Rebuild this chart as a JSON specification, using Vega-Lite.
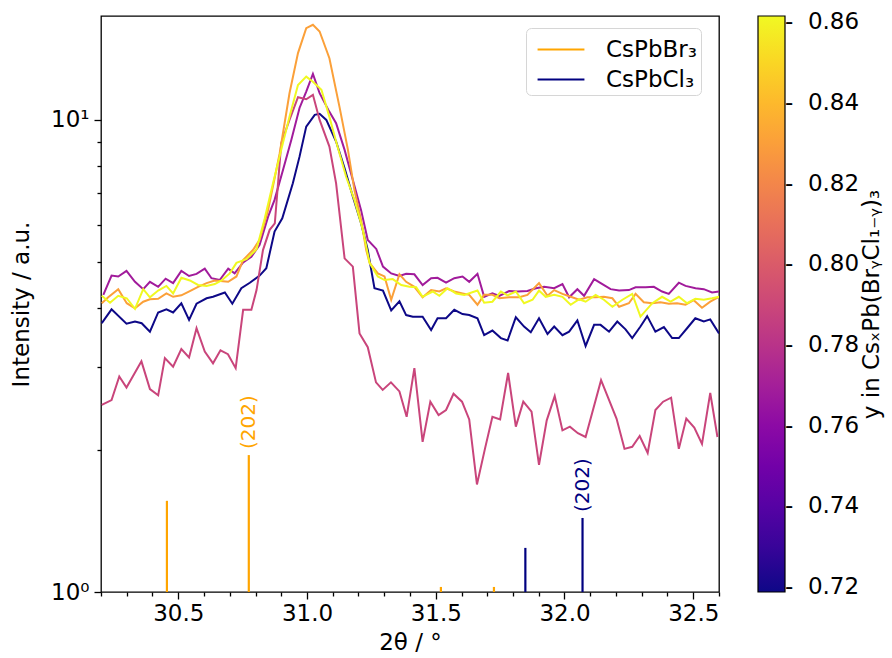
{
  "$schema": "https://vega.github.io/schema/vega-lite/v6.json",
  "width": 618,
  "height": 576,
  "autosize": {"type": "none"},
  "padding": {"left": 101, "top": 16, "right": 173, "bottom": 66},
  "config": {
    "font": "DejaVu Sans",
    "view": {"stroke": "black", "strokeWidth": 1.3},
    "axis": {"domain": false, "grid": false, "labelFont": "DejaVu Sans", "labelFontSize": 23, "titleFont": "DejaVu Sans", "titleFontSize": 23, "titleFontWeight": "normal", "labelColor": "black", "titleColor": "black", "tickColor": "black", "tickWidth": 1.3, "labelOverlap": false, "labelFlush": false},
    "legend": {"labelFont": "DejaVu Sans", "titleFont": "DejaVu Sans", "labelColor": "black", "titleColor": "black", "titleFontWeight": "normal"}
  },
  "resolve": {"axis": {"x": "independent", "y": "independent"}},
  "datasets": {
    "scans": [
      {"y":0.7188,"t":30.203,"I":3.71},{"y":0.7188,"t":30.241,"I":3.97},{"y":0.7188,"t":30.299,"I":3.70},{"y":0.7188,"t":30.332,"I":3.74},{"y":0.7188,"t":30.358,"I":3.71},{"y":0.7188,"t":30.39,"I":3.56},{"y":0.7188,"t":30.422,"I":3.91},{"y":0.7188,"t":30.454,"I":3.97},{"y":0.7188,"t":30.48,"I":3.91},{"y":0.7188,"t":30.512,"I":4.09},{"y":0.7188,"t":30.542,"I":3.77},{"y":0.7188,"t":30.571,"I":4.08},{"y":0.7188,"t":30.61,"I":4.19},{"y":0.7188,"t":30.635,"I":4.22},{"y":0.7188,"t":30.681,"I":4.31},{"y":0.7188,"t":30.71,"I":4.08},{"y":0.7188,"t":30.745,"I":4.40},{"y":0.7188,"t":30.778,"I":4.52},{"y":0.7188,"t":30.816,"I":4.68},{"y":0.7188,"t":30.842,"I":4.85},{"y":0.7188,"t":30.874,"I":5.80},{"y":0.7188,"t":30.904,"I":6.19},{"y":0.7188,"t":30.945,"I":7.34},{"y":0.7188,"t":30.971,"I":8.36},{"y":0.7188,"t":30.997,"I":9.68},{"y":0.7188,"t":31.03,"I":10.25},{"y":0.7188,"t":31.049,"I":10.3},{"y":0.7188,"t":31.075,"I":10.0},{"y":0.7188,"t":31.113,"I":9.0},{"y":0.7188,"t":31.146,"I":7.90},{"y":0.7188,"t":31.178,"I":6.88},{"y":0.7188,"t":31.21,"I":6.04},{"y":0.7188,"t":31.236,"I":5.30},{"y":0.7188,"t":31.262,"I":4.40},{"y":0.7188,"t":31.295,"I":4.35},{"y":0.7188,"t":31.327,"I":3.95},{"y":0.7188,"t":31.359,"I":4.13},{"y":0.7188,"t":31.385,"I":3.86},{"y":0.7188,"t":31.411,"I":3.83},{"y":0.7188,"t":31.449,"I":3.83},{"y":0.7188,"t":31.482,"I":3.59},{"y":0.7188,"t":31.507,"I":3.80},{"y":0.7188,"t":31.54,"I":3.80},{"y":0.7188,"t":31.572,"I":3.96},{"y":0.7188,"t":31.604,"I":3.88},{"y":0.7188,"t":31.63,"I":3.86},{"y":0.7188,"t":31.662,"I":3.80},{"y":0.7188,"t":31.688,"I":3.50},{"y":0.7188,"t":31.72,"I":3.58},{"y":0.7188,"t":31.753,"I":3.45},{"y":0.7188,"t":31.779,"I":3.41},{"y":0.7188,"t":31.811,"I":3.82},{"y":0.7188,"t":31.843,"I":3.65},{"y":0.7188,"t":31.869,"I":3.55},{"y":0.7188,"t":31.901,"I":3.80},{"y":0.7188,"t":31.934,"I":3.52},{"y":0.7188,"t":31.96,"I":3.65},{"y":0.7188,"t":31.992,"I":3.50},{"y":0.7188,"t":32.018,"I":3.56},{"y":0.7188,"t":32.05,"I":3.76},{"y":0.7188,"t":32.082,"I":3.32},{"y":0.7188,"t":32.115,"I":3.68},{"y":0.7188,"t":32.14,"I":3.68},{"y":0.7188,"t":32.173,"I":3.56},{"y":0.7188,"t":32.205,"I":3.74},{"y":0.7188,"t":32.237,"I":3.60},{"y":0.7188,"t":32.263,"I":3.45},{"y":0.7188,"t":32.295,"I":3.65},{"y":0.7188,"t":32.321,"I":3.84},{"y":0.7188,"t":32.353,"I":3.56},{"y":0.7188,"t":32.386,"I":3.64},{"y":0.7188,"t":32.418,"I":3.45},{"y":0.7188,"t":32.444,"I":3.45},{"y":0.7188,"t":32.476,"I":3.62},{"y":0.7188,"t":32.508,"I":3.80},{"y":0.7188,"t":32.541,"I":3.74},{"y":0.7188,"t":32.566,"I":3.78},{"y":0.7188,"t":32.6,"I":3.53},

      {"y":0.7684,"t":30.209,"I":4.26},{"y":0.7684,"t":30.241,"I":4.68},{"y":0.7684,"t":30.267,"I":4.66},{"y":0.7684,"t":30.299,"I":4.79},{"y":0.7684,"t":30.332,"I":4.54},{"y":0.7684,"t":30.364,"I":4.38},{"y":0.7684,"t":30.39,"I":4.54},{"y":0.7684,"t":30.422,"I":4.43},{"y":0.7684,"t":30.451,"I":4.61},{"y":0.7684,"t":30.48,"I":4.51},{"y":0.7684,"t":30.512,"I":4.79},{"y":0.7684,"t":30.542,"I":4.67},{"y":0.7684,"t":30.571,"I":4.72},{"y":0.7684,"t":30.603,"I":4.84},{"y":0.7684,"t":30.629,"I":4.62},{"y":0.7684,"t":30.661,"I":4.58},{"y":0.7684,"t":30.694,"I":4.84},{"y":0.7684,"t":30.719,"I":4.73},{"y":0.7684,"t":30.752,"I":4.99},{"y":0.7684,"t":30.784,"I":5.13},{"y":0.7684,"t":30.816,"I":5.44},{"y":0.7684,"t":30.849,"I":6.24},{"y":0.7684,"t":30.874,"I":6.77},{"y":0.7684,"t":30.907,"I":7.84},{"y":0.7684,"t":30.939,"I":9.07},{"y":0.7684,"t":30.971,"I":10.6},{"y":0.7684,"t":30.997,"I":11.48},{"y":0.7684,"t":31.023,"I":12.52},{"y":0.7684,"t":31.049,"I":11.39},{"y":0.7684,"t":31.087,"I":10.4},{"y":0.7684,"t":31.113,"I":9.84},{"y":0.7684,"t":31.146,"I":8.64},{"y":0.7684,"t":31.178,"I":7.46},{"y":0.7684,"t":31.21,"I":6.44},{"y":0.7684,"t":31.236,"I":5.57},{"y":0.7684,"t":31.269,"I":5.33},{"y":0.7684,"t":31.295,"I":4.89},{"y":0.7684,"t":31.327,"I":4.73},{"y":0.7684,"t":31.359,"I":4.67},{"y":0.7684,"t":31.385,"I":4.72},{"y":0.7684,"t":31.417,"I":4.71},{"y":0.7684,"t":31.449,"I":4.47},{"y":0.7684,"t":31.482,"I":4.62},{"y":0.7684,"t":31.507,"I":4.63},{"y":0.7684,"t":31.54,"I":4.52},{"y":0.7684,"t":31.572,"I":4.62},{"y":0.7684,"t":31.604,"I":4.66},{"y":0.7684,"t":31.63,"I":4.54},{"y":0.7684,"t":31.662,"I":4.72},{"y":0.7684,"t":31.688,"I":4.22},{"y":0.7684,"t":31.72,"I":4.29},{"y":0.7684,"t":31.747,"I":4.24},{"y":0.7684,"t":31.785,"I":4.34},{"y":0.7684,"t":31.817,"I":4.33},{"y":0.7684,"t":31.856,"I":4.34},{"y":0.7684,"t":31.889,"I":4.40},{"y":0.7684,"t":31.921,"I":4.43},{"y":0.7684,"t":31.96,"I":4.40},{"y":0.7684,"t":31.992,"I":4.49},{"y":0.7684,"t":32.018,"I":4.21},{"y":0.7684,"t":32.05,"I":4.38},{"y":0.7684,"t":32.076,"I":4.24},{"y":0.7684,"t":32.115,"I":4.60},{"y":0.7684,"t":32.147,"I":4.49},{"y":0.7684,"t":32.179,"I":4.38},{"y":0.7684,"t":32.212,"I":4.35},{"y":0.7684,"t":32.25,"I":4.36},{"y":0.7684,"t":32.276,"I":4.42},{"y":0.7684,"t":32.315,"I":4.42},{"y":0.7684,"t":32.347,"I":4.43},{"y":0.7684,"t":32.379,"I":4.33},{"y":0.7684,"t":32.405,"I":4.28},{"y":0.7684,"t":32.444,"I":4.52},{"y":0.7684,"t":32.47,"I":4.45},{"y":0.7684,"t":32.509,"I":4.40},{"y":0.7684,"t":32.541,"I":4.38},{"y":0.7684,"t":32.573,"I":4.31},{"y":0.7684,"t":32.6,"I":4.33},

      {"y":0.789,"t":30.203,"I":2.49},{"y":0.789,"t":30.241,"I":2.55},{"y":0.789,"t":30.271,"I":2.86},{"y":0.789,"t":30.299,"I":2.71},{"y":0.789,"t":30.357,"I":3.08},{"y":0.789,"t":30.39,"I":2.69},{"y":0.789,"t":30.422,"I":2.61},{"y":0.789,"t":30.448,"I":3.13},{"y":0.789,"t":30.48,"I":3.0},{"y":0.789,"t":30.512,"I":3.27},{"y":0.789,"t":30.542,"I":3.14},{"y":0.789,"t":30.571,"I":3.62},{"y":0.789,"t":30.603,"I":3.23},{"y":0.789,"t":30.635,"I":3.05},{"y":0.789,"t":30.664,"I":3.25},{"y":0.789,"t":30.693,"I":3.19},{"y":0.789,"t":30.723,"I":2.98},{"y":0.789,"t":30.752,"I":3.96},{"y":0.789,"t":30.784,"I":3.96},{"y":0.789,"t":30.804,"I":4.36},{"y":0.789,"t":30.829,"I":5.30},{"y":0.789,"t":30.855,"I":5.85},{"y":0.789,"t":30.875,"I":6.04},{"y":0.789,"t":30.9,"I":8.93},{"y":0.789,"t":30.932,"I":10.0},{"y":0.789,"t":30.965,"I":11.17},{"y":0.789,"t":30.997,"I":11.06},{"y":0.789,"t":31.023,"I":11.3},{"y":0.789,"t":31.049,"I":10.0},{"y":0.789,"t":31.087,"I":8.78},{"y":0.789,"t":31.113,"I":7.34},{"y":0.789,"t":31.146,"I":5.09},{"y":0.789,"t":31.178,"I":4.89},{"y":0.789,"t":31.204,"I":3.53},{"y":0.789,"t":31.236,"I":3.30},{"y":0.789,"t":31.268,"I":2.78},{"y":0.789,"t":31.294,"I":2.68},{"y":0.789,"t":31.326,"I":2.78},{"y":0.789,"t":31.359,"I":2.66},{"y":0.789,"t":31.387,"I":2.35},{"y":0.789,"t":31.417,"I":2.98},{"y":0.789,"t":31.449,"I":2.08},{"y":0.789,"t":31.479,"I":2.53},{"y":0.789,"t":31.511,"I":2.37},{"y":0.789,"t":31.54,"I":2.43},{"y":0.789,"t":31.569,"I":2.63},{"y":0.789,"t":31.602,"I":2.53},{"y":0.789,"t":31.63,"I":2.32},{"y":0.789,"t":31.66,"I":1.69},{"y":0.789,"t":31.691,"I":2.01},{"y":0.789,"t":31.72,"I":2.35},{"y":0.789,"t":31.75,"I":2.32},{"y":0.789,"t":31.781,"I":2.91},{"y":0.789,"t":31.811,"I":2.24},{"y":0.789,"t":31.84,"I":2.53},{"y":0.789,"t":31.872,"I":2.41},{"y":0.789,"t":31.901,"I":1.86},{"y":0.789,"t":31.931,"I":2.31},{"y":0.789,"t":31.962,"I":2.60},{"y":0.789,"t":31.992,"I":2.20},{"y":0.789,"t":32.021,"I":2.24},{"y":0.789,"t":32.052,"I":2.17},{"y":0.789,"t":32.082,"I":2.13},{"y":0.789,"t":32.142,"I":2.81},{"y":0.789,"t":32.202,"I":2.33},{"y":0.789,"t":32.233,"I":2.01},{"y":0.789,"t":32.263,"I":2.03},{"y":0.789,"t":32.292,"I":2.14},{"y":0.789,"t":32.323,"I":1.97},{"y":0.789,"t":32.353,"I":2.43},{"y":0.789,"t":32.383,"I":2.53},{"y":0.789,"t":32.414,"I":2.58},{"y":0.789,"t":32.444,"I":2.01},{"y":0.789,"t":32.473,"I":2.33},{"y":0.789,"t":32.504,"I":2.23},{"y":0.789,"t":32.534,"I":2.06},{"y":0.789,"t":32.566,"I":2.64},{"y":0.789,"t":32.594,"I":2.13},

      {"y":0.8307,"t":30.203,"I":4.09},{"y":0.8307,"t":30.228,"I":4.21},{"y":0.8307,"t":30.267,"I":4.38},{"y":0.8307,"t":30.3,"I":4.09},{"y":0.8307,"t":30.332,"I":3.99},{"y":0.8307,"t":30.364,"I":4.12},{"y":0.8307,"t":30.39,"I":4.17},{"y":0.8307,"t":30.422,"I":4.18},{"y":0.8307,"t":30.454,"I":4.29},{"y":0.8307,"t":30.48,"I":4.22},{"y":0.8307,"t":30.512,"I":4.25},{"y":0.8307,"t":30.545,"I":4.34},{"y":0.8307,"t":30.577,"I":4.43},{"y":0.8307,"t":30.61,"I":4.51},{"y":0.8307,"t":30.642,"I":4.57},{"y":0.8307,"t":30.694,"I":4.54},{"y":0.8307,"t":30.726,"I":4.66},{"y":0.8307,"t":30.752,"I":5.05},{"y":0.8307,"t":30.79,"I":5.30},{"y":0.8307,"t":30.816,"I":5.57},{"y":0.8307,"t":30.849,"I":6.44},{"y":0.8307,"t":30.894,"I":8.50},{"y":0.8307,"t":30.932,"I":11.39},{"y":0.8307,"t":30.965,"I":13.85},{"y":0.8307,"t":30.997,"I":15.64},{"y":0.8307,"t":31.023,"I":15.9},{"y":0.8307,"t":31.049,"I":15.39},{"y":0.8307,"t":31.087,"I":13.51},{"y":0.8307,"t":31.126,"I":10.67},{"y":0.8307,"t":31.159,"I":8.64},{"y":0.8307,"t":31.184,"I":7.11},{"y":0.8307,"t":31.21,"I":6.14},{"y":0.8307,"t":31.23,"I":5.30},{"y":0.8307,"t":31.243,"I":4.98},{"y":0.8307,"t":31.275,"I":4.73},{"y":0.8307,"t":31.301,"I":4.66},{"y":0.8307,"t":31.327,"I":4.16},{"y":0.8307,"t":31.359,"I":4.71},{"y":0.8307,"t":31.385,"I":4.54},{"y":0.8307,"t":31.417,"I":4.43},{"y":0.8307,"t":31.449,"I":4.21},{"y":0.8307,"t":31.482,"I":4.36},{"y":0.8307,"t":31.514,"I":4.33},{"y":0.8307,"t":31.54,"I":4.40},{"y":0.8307,"t":31.572,"I":4.33},{"y":0.8307,"t":31.604,"I":4.29},{"y":0.8307,"t":31.63,"I":4.26},{"y":0.8307,"t":31.662,"I":4.06},{"y":0.8307,"t":31.688,"I":4.26},{"y":0.8307,"t":31.72,"I":4.26},{"y":0.8307,"t":31.747,"I":4.19},{"y":0.8307,"t":31.785,"I":4.21},{"y":0.8307,"t":31.824,"I":4.21},{"y":0.8307,"t":31.856,"I":4.26},{"y":0.8307,"t":31.901,"I":4.51},{"y":0.8307,"t":31.934,"I":4.24},{"y":0.8307,"t":31.96,"I":4.36},{"y":0.8307,"t":31.992,"I":4.28},{"y":0.8307,"t":32.024,"I":4.22},{"y":0.8307,"t":32.057,"I":4.16},{"y":0.8307,"t":32.089,"I":4.21},{"y":0.8307,"t":32.121,"I":4.21},{"y":0.8307,"t":32.153,"I":4.22},{"y":0.8307,"t":32.186,"I":4.19},{"y":0.8307,"t":32.212,"I":4.02},{"y":0.8307,"t":32.25,"I":4.09},{"y":0.8307,"t":32.276,"I":4.28},{"y":0.8307,"t":32.308,"I":4.11},{"y":0.8307,"t":32.341,"I":4.09},{"y":0.8307,"t":32.373,"I":4.11},{"y":0.8307,"t":32.405,"I":4.08},{"y":0.8307,"t":32.437,"I":4.09},{"y":0.8307,"t":32.47,"I":4.06},{"y":0.8307,"t":32.502,"I":4.15},{"y":0.8307,"t":32.534,"I":4.0},{"y":0.8307,"t":32.566,"I":4.12},{"y":0.8307,"t":32.6,"I":4.22},

      {"y":0.8615,"t":30.203,"I":4.24},{"y":0.8615,"t":30.235,"I":4.10},{"y":0.8615,"t":30.267,"I":4.24},{"y":0.8615,"t":30.3,"I":4.19},{"y":0.8615,"t":30.332,"I":3.98},{"y":0.8615,"t":30.364,"I":4.38},{"y":0.8615,"t":30.39,"I":4.21},{"y":0.8615,"t":30.422,"I":4.35},{"y":0.8615,"t":30.454,"I":4.45},{"y":0.8615,"t":30.48,"I":4.29},{"y":0.8615,"t":30.512,"I":4.63},{"y":0.8615,"t":30.545,"I":4.57},{"y":0.8615,"t":30.577,"I":4.47},{"y":0.8615,"t":30.61,"I":4.45},{"y":0.8615,"t":30.642,"I":4.49},{"y":0.8615,"t":30.668,"I":4.57},{"y":0.8615,"t":30.7,"I":4.73},{"y":0.8615,"t":30.726,"I":4.98},{"y":0.8615,"t":30.765,"I":5.07},{"y":0.8615,"t":30.804,"I":5.32},{"y":0.8615,"t":30.836,"I":6.19},{"y":0.8615,"t":30.868,"I":7.34},{"y":0.8615,"t":30.9,"I":8.64},{"y":0.8615,"t":30.932,"I":10.15},{"y":0.8615,"t":30.965,"I":11.86},{"y":0.8615,"t":30.997,"I":12.35},{"y":0.8615,"t":31.023,"I":12.05},{"y":0.8615,"t":31.056,"I":11.58},{"y":0.8615,"t":31.087,"I":10.15},{"y":0.8615,"t":31.113,"I":9.0},{"y":0.8615,"t":31.152,"I":7.58},{"y":0.8615,"t":31.184,"I":6.77},{"y":0.8615,"t":31.217,"I":5.85},{"y":0.8615,"t":31.243,"I":4.98},{"y":0.8615,"t":31.275,"I":4.66},{"y":0.8615,"t":31.301,"I":4.58},{"y":0.8615,"t":31.333,"I":4.60},{"y":0.8615,"t":31.366,"I":4.47},{"y":0.8615,"t":31.398,"I":4.43},{"y":0.8615,"t":31.424,"I":4.42},{"y":0.8615,"t":31.449,"I":4.22},{"y":0.8615,"t":31.488,"I":4.33},{"y":0.8615,"t":31.514,"I":4.24},{"y":0.8615,"t":31.546,"I":4.40},{"y":0.8615,"t":31.579,"I":4.29},{"y":0.8615,"t":31.611,"I":4.26},{"y":0.8615,"t":31.662,"I":4.35},{"y":0.8615,"t":31.688,"I":4.10},{"y":0.8615,"t":31.72,"I":4.12},{"y":0.8615,"t":31.753,"I":4.33},{"y":0.8615,"t":31.779,"I":4.25},{"y":0.8615,"t":31.811,"I":4.33},{"y":0.8615,"t":31.843,"I":4.09},{"y":0.8615,"t":31.876,"I":4.16},{"y":0.8615,"t":31.901,"I":4.35},{"y":0.8615,"t":31.927,"I":4.22},{"y":0.8615,"t":31.96,"I":4.26},{"y":0.8615,"t":31.992,"I":4.22},{"y":0.8615,"t":32.024,"I":4.06},{"y":0.8615,"t":32.057,"I":4.17},{"y":0.8615,"t":32.082,"I":4.12},{"y":0.8615,"t":32.121,"I":4.26},{"y":0.8615,"t":32.153,"I":4.16},{"y":0.8615,"t":32.186,"I":4.02},{"y":0.8615,"t":32.225,"I":4.16},{"y":0.8615,"t":32.263,"I":4.28},{"y":0.8615,"t":32.295,"I":3.83},{"y":0.8615,"t":32.341,"I":4.09},{"y":0.8615,"t":32.379,"I":4.22},{"y":0.8615,"t":32.412,"I":4.12},{"y":0.8615,"t":32.444,"I":4.22},{"y":0.8615,"t":32.476,"I":4.09},{"y":0.8615,"t":32.508,"I":4.18},{"y":0.8615,"t":32.541,"I":4.16},{"y":0.8615,"t":32.573,"I":4.19},{"y":0.8615,"t":32.6,"I":4.22}
    ],
    "refs": [
      {"phase":"CsPbBr₃","t":30.456,"I":1.56},
      {"phase":"CsPbBr₃","t":30.774,"I":1.95},
      {"phase":"CsPbBr₃","t":31.52,"I":1.025},
      {"phase":"CsPbBr₃","t":31.726,"I":1.025},
      {"phase":"CsPbCl₃","t":31.848,"I":1.24},
      {"phase":"CsPbCl₃","t":32.07,"I":1.435}
    ],
    "notes": [
      {"phase":"CsPbBr₃","t":30.774,"I":1.95,"label":"(202)"},
      {"phase":"CsPbCl₃","t":32.07,"I":1.435,"label":"(202)"}
    ]
  },
  "layer": [
    {
      "data": {"name": "refs"},
      "mark": {"type": "rule", "strokeWidth": 2.2},
      "encoding": {
        "x": {"field": "t", "type": "quantitative", "scale": {"domain": [30.2, 32.6], "nice": false, "zero": false},
          "axis": {"orient": "bottom", "title": "2θ / °", "values": [30.5, 31.0, 31.5, 32.0, 32.5], "format": ".1f",
            "labelOverlap": false, "tickSize": 7, "labelPadding": 3, "titlePadding": 6}},
        "y": {"field": "I", "type": "quantitative", "scale": {"type": "log", "domain": [1, 16.6], "nice": false},
          "axis": {"orient": "left", "title": "Intensity / a.u.", "values": [1, 10],
            "labelOverlap": false,
            "labelExpr": "datum.value == 1 ? '10⁰' : '10¹'",
            "tickSize": 7, "labelPadding": 5, "titlePadding": 17}},
        "y2": {"datum": 1},
        "stroke": {"field": "phase", "type": "nominal",
          "scale": {"domain": ["CsPbBr₃", "CsPbCl₃"], "range": ["#ffa500", "#000080"]},
          "legend": {"orient": "none", "legendX": 425, "legendY": 12, "title": null,
            "symbolType": "M-1.42,0H1.42", "symbolSize": 1089, "symbolStrokeWidth": 2.2, "symbolOffset": 13.5,
            "labelFontSize": 23, "labelOffset": 27, "labelExpr": "datum.label + ' '",
            "padding": 3.5, "rowPadding": 0, "strokeColor": "#d6d6d6", "fillColor": "white", "cornerRadius": 5}}
      }
    },
    {
      "data": {"name": "notes"},
      "mark": {"type": "text", "angle": 270, "align": "left", "baseline": "middle", "dx": 6, "fontSize": 20, "font": "DejaVu Sans"},
      "encoding": {
        "x": {"field": "t", "type": "quantitative",
          "axis": {"orient": "bottom", "title": null, "labels": false, "tickSize": 4,
            "values": [30.2, 30.3, 30.4, 30.6, 30.7, 30.8, 30.9, 31.1, 31.2, 31.3, 31.4, 31.6, 31.7, 31.8, 31.9, 32.1, 32.2, 32.3, 32.4, 32.6]}},
        "y": {"field": "I", "type": "quantitative",
          "axis": {"orient": "right", "offset": 141, "title": "y in CsₓPb(BrᵧCl₁₋ᵧ)₃", "titleAngle": 270, "titlePadding": 0, "titleBaseline": "top",
            "labels": false, "ticks": false, "domain": false, "grid": false, "titleLimit": 600}},
        "text": {"field": "label"},
        "fill": {"field": "phase", "type": "nominal", "scale": {"domain": ["CsPbBr₃", "CsPbCl₃"], "range": ["#ffa500", "#000080"]}, "legend": null}
      }
    },
    {
      "data": {"name": "scans"},
      "mark": {"type": "line", "strokeWidth": 2, "clip": true},
      "encoding": {
        "x": {"field": "t", "type": "quantitative", "axis": null},
        "y": {"field": "I", "type": "quantitative",
          "axis": {"orient": "left", "title": null, "labels": false, "tickSize": 4, "values": [2, 3, 4, 5, 6, 7, 8, 9]}},
        "detail": {"field": "y"},
        "color": {"field": "y", "type": "quantitative",
          "scale": {"scheme": "plasma", "domain": [0.7188, 0.8615]},
          "legend": {"orient": "none", "legendX": 657, "legendY": 0, "direction": "vertical",
            "gradientLength": 576, "gradientThickness": 27, "gradientStrokeColor": "black", "gradientStrokeWidth": 1.2,
            "values": [0.72, 0.74, 0.76, 0.78, 0.80, 0.82, 0.84, 0.86],
            "labelExpr": "'-\u00a0\u00a0' + format(datum.value, '.2f')",
            "labelFontSize": 23, "labelOffset": 0, "labelBaseline": "middle", "labelOverlap": false,
            "title": null}}
      }
    }
  ]
}
